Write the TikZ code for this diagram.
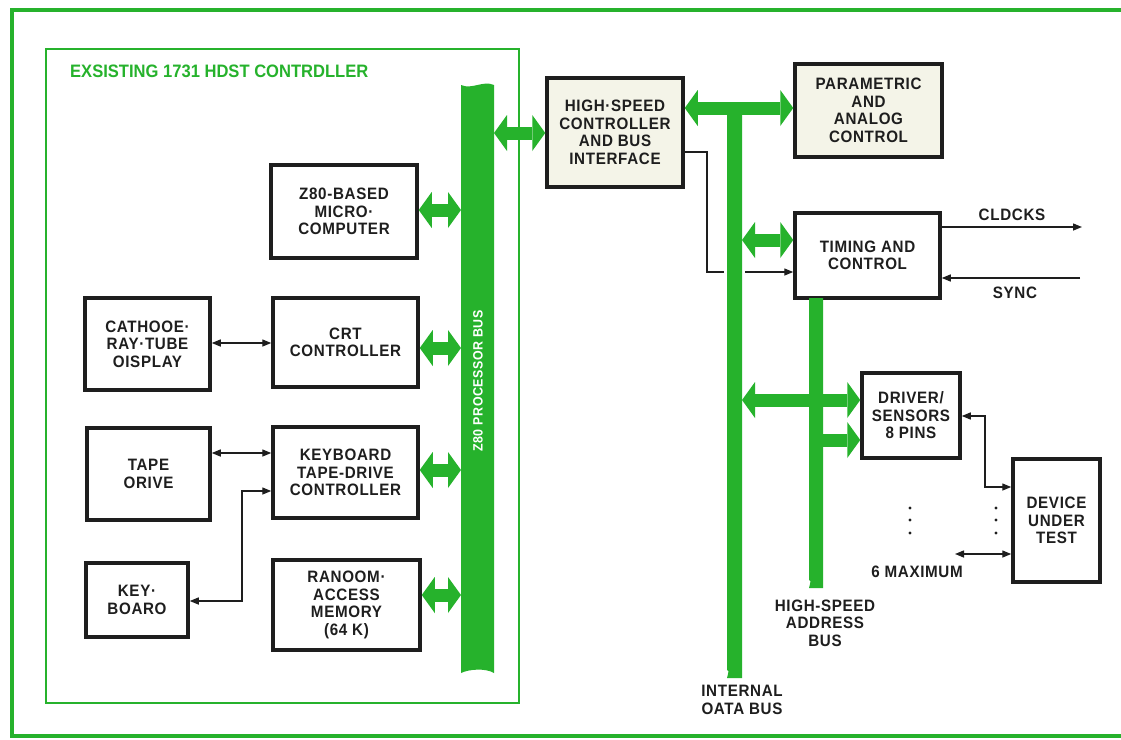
\documentclass[tikz,border=0pt]{standalone}
\usepackage{fontspec}
\setmainfont{Liberation Sans}[FakeStretch=0.92, LetterSpace=4]
\newfontfamily\plainfont{Liberation Sans}[FakeStretch=0.92]
\usetikzlibrary{arrows.meta}
\definecolor{bgreen}{RGB}{38,178,44}
\definecolor{ink}{RGB}{30,30,30}
\definecolor{cream}{RGB}{244,244,232}
\tikzset{
  box/.style={draw=ink, line width=3.5pt, fill=white, align=center, inner sep=0pt, text=ink,
    font=\bfseries\fontsize{16.5}{17.5}\selectfont},
  lbl/.style={align=center, text=ink, inner sep=0pt, font=\bfseries\fontsize{16.5}{17.5}\selectfont},
  busnode/.style={inner sep=0pt, outer sep=0pt},
  gtip/.tip={Triangle[width=36pt,length=13pt,line width=0pt]},
  gdbl/.style={draw=bgreen, line width=13pt, gtip-gtip},
  gsgl/.style={draw=bgreen, line width=13pt, -gtip},
  ttip/.tip={Triangle[width=7pt,length=9pt]},
  thinline/.style={draw=ink, line width=1.4pt},
}
\begin{document}
\begin{tikzpicture}[x=1pt,y=-1pt]
\useasboundingbox (0,0) rectangle (1121,739);
\fill[white] (0,0) rectangle (1121,739);
% frames
\draw[bgreen, line width=4.5pt] (1121,10) -- (12,10) -- (12,736) -- (1121,736);
\draw[bgreen, line width=2pt] (46,49) rectangle (519,703);
\node[anchor=west, text=bgreen, inner sep=0pt, font=\plainfont\bfseries\fontsize{18}{18}\selectfont] (host) at (70,71) {EXSISTING 1731 HDST CONTRDLLER};

% boxes
\node[box, minimum width=146pt, minimum height=93pt] (z80) at (344,211.5) {Z80-BASED\\MICRO·\\COMPUTER};
\node[box, minimum width=145pt, minimum height=89pt] (crt) at (345.5,342.5) {CRT\\CONTROLLER};
\node[box, minimum width=145pt, minimum height=91pt] (kbc) at (345.5,472.5) {KEYBOARD\\TAPE-DRIVE\\CONTROLLER};
\node[box, minimum width=147pt, minimum height=90pt] (ram) at (346.5,605) {RANOOM·\\ACCESS\\MEMORY\\(64 K)};
\node[box, minimum width=125pt, minimum height=92pt] (crtd) at (147.5,344) {CATHOOE·\\RAY·TUBE\\OISPLAY};
\node[box, minimum width=123pt, minimum height=92pt] (tape) at (148.5,474) {TAPE\\ORIVE};
\node[box, minimum width=102pt, minimum height=74pt] (kb) at (137,600) {KEY·\\BOARO};
\node[box, fill=cream, minimum width=136pt, minimum height=109pt] (hsc) at (615,132.5) {HIGH·SPEED\\CONTROLLER\\AND BUS\\INTERFACE};
\node[box, fill=cream, minimum width=147pt, minimum height=93pt] (par) at (868.5,110.5) {PARAMETRIC\\AND\\ANALOG\\CONTROL};
\node[box, minimum width=145pt, minimum height=85pt] (tim) at (867.5,255.5) {TIMING AND\\CONTROL};
\node[box, minimum width=98pt, minimum height=85pt] (drv) at (911,415.5) {DRIVER/\\SENSORS\\8 PINS};
\node[box, minimum width=87pt, minimum height=123pt] (dut) at (1056.5,520.5) {DEVICE\\UNDER\\TEST};

% bus nodes (for anchoring)
\node[busnode, minimum width=33pt, minimum height=588pt] (zbus) at (477.5,379) {};
\node[busnode, minimum width=15pt, minimum height=570pt] (dbus) at (734.5,393) {};
\node[busnode, minimum width=14pt, minimum height=290pt] (abus) at (816,443) {};

% thin connectors (under the buses)
\draw[thinline, -ttip] (hsc.east |- 0,152) -| (707,272) -- (tim.west |- 0,272);
\draw[thinline, ttip-ttip] (crtd.east |- 0,343) -- (crt.west |- 0,343);
\draw[thinline, ttip-ttip] (tape.east |- 0,453) -- (kbc.west |- 0,453);
\draw[thinline, ttip-ttip] (kbc.west |- 0,491) -| (242,601) -- (kb.east |- 0,601);
\draw[thinline, ttip-ttip] (drv.east |- 0,416) -| (985,487) -- (dut.west |- 0,487);
\coordinate (m6) at (955,554);
\draw[thinline, ttip-ttip] (m6) -- (dut.west |- m6);
\coordinate (clk) at (1082,227);
\coordinate (syn) at (1080,278);
\draw[thinline, -ttip] (tim.east |- clk) -- (clk);
\draw[thinline, -ttip] (syn) -- (tim.east |- syn);

% buses
\fill[white] ([xshift=-3pt]dbus.north west) rectangle ([xshift=3pt]dbus.south east);
\fill[bgreen] (zbus.north west) .. controls +(11,5) and +(-11,-5) .. (zbus.north east)
  -- (zbus.south east) .. controls +(-8,-5) and +(8,-4) .. (zbus.south west) -- cycle;
\fill[bgreen] (dbus.north west) rectangle (dbus.north east |- 0,670)
  (dbus.south west) .. controls +(2,-8) .. ([yshift=8pt]dbus.south west) -- ([yshift=8pt]dbus.south east) .. controls +(0,4) and +(0,-4) .. (dbus.south east) -- cycle;
\fill[bgreen] (abus.north west) rectangle (abus.north east |- 0,580)
  (abus.south west) .. controls +(2,-8) .. ([yshift=8pt]abus.south west) -- ([yshift=8pt]abus.south east) .. controls +(0,4) and +(0,-4) .. (abus.south east) -- cycle;
\node[rotate=90, text=white, inner sep=0pt, font=\bfseries\fontsize{13.5}{13.5}\selectfont] (zlab) at (478,381) {Z80 PROCESSOR BUS};

% green bus arrows
\draw[gdbl] (zbus.east |- 0,133) -- (hsc.west |- 0,133);
\draw[gdbl] (z80.east |- 0,210) -- (zbus.west |- 0,210);
\draw[gdbl] (crt.east |- 0,348) -- (zbus.west |- 0,348);
\draw[gdbl] (kbc.east |- 0,470) -- (zbus.west |- 0,470);
\draw[gdbl] (ram.east |- 0,595) -- (zbus.west |- 0,595);
\draw[gdbl] (hsc.east |- 0,108) -- (par.west |- 0,108);
\draw[gdbl] (dbus.east |- 0,240) -- (tim.west |- 0,240);
\draw[gdbl] (dbus.east |- 0,400) -- (drv.west |- 0,400);
\draw[gsgl] (abus.east |- 0,440) -- (drv.west |- 0,440);

% dots
\foreach \yy in {508,520,533} {
  \fill[ink] (910,\yy) circle (1.6pt);
  \fill[ink] (996,\yy) circle (1.6pt);
}

% labels
\node[lbl] (clklbl) at (1012,215) {CLDCKS};
\node[lbl] (synlbl) at (1015,293) {SYNC};
\node[lbl] (maxlbl) at (917,572) {6 MAXIMUM};
\node[lbl] (ablbl) at (825,623) {HIGH-SPEED\\ADDRESS\\BUS};
\node[lbl] (dblbl) at (742,700) {INTERNAL\\OATA BUS};
\end{tikzpicture}
\end{document}
